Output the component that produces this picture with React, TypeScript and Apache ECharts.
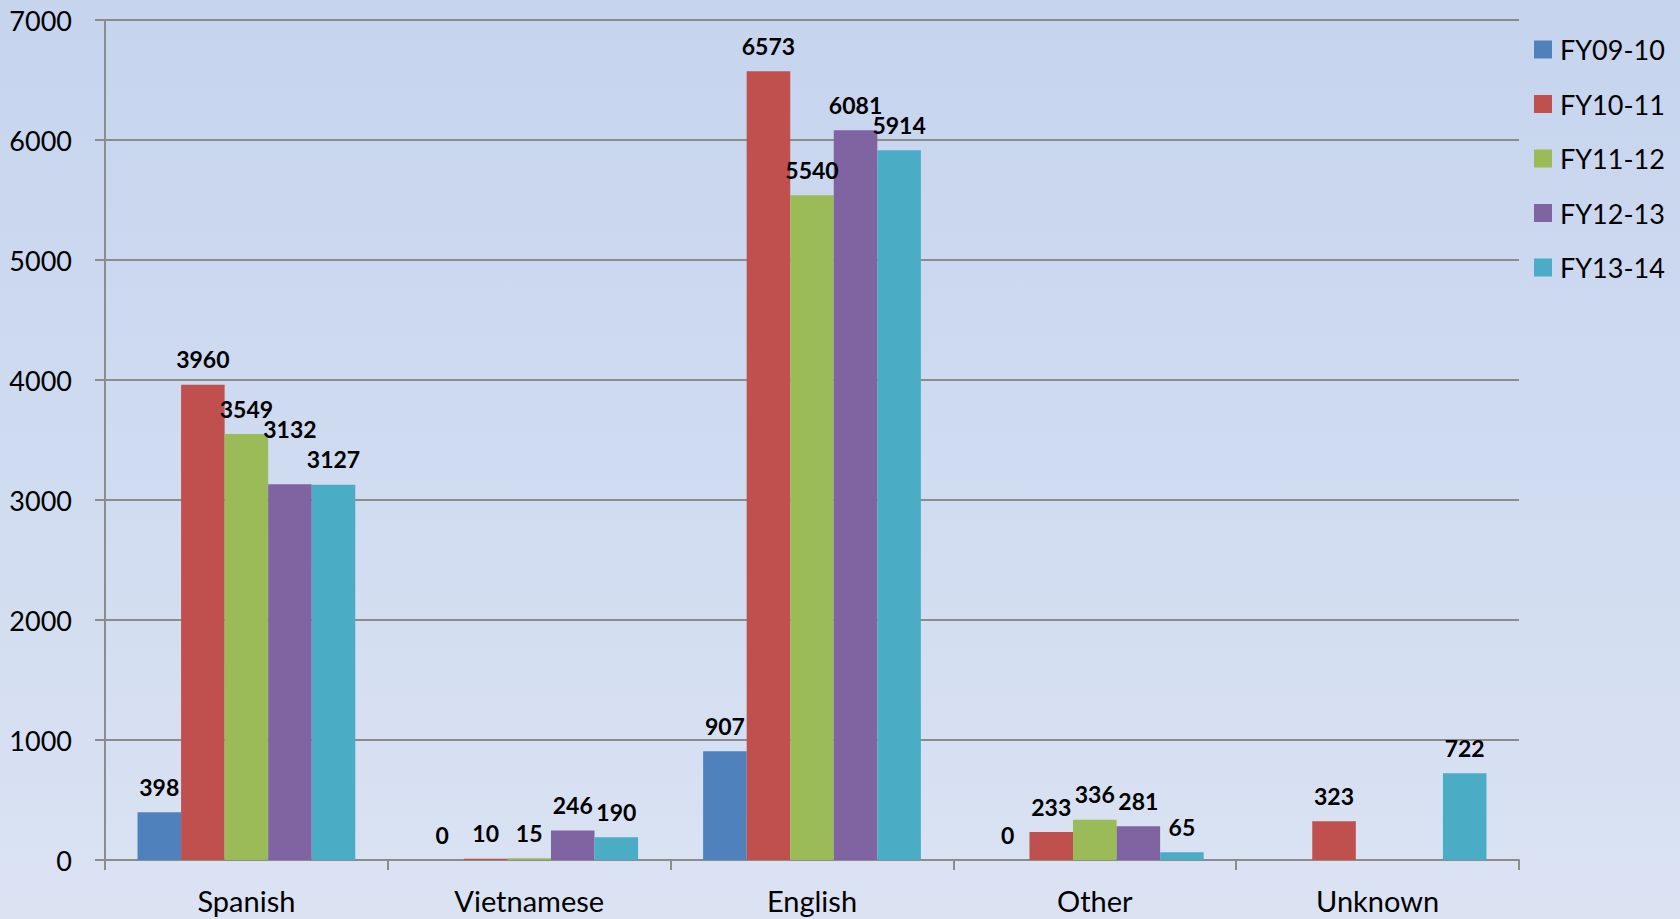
import React, { useEffect, useRef } from "react";
import * as echarts from "echarts";

const categories = ["Spanish", "Vietnamese", "English", "Other", "Unknown"];
const seriesNames = ["FY09-10", "FY10-11", "FY11-12", "FY12-13", "FY13-14"];
const fy0910 = [398, 0, 907, 0, null];
const fy1011 = [3960, 10, 6573, 233, 323];
const fy1112 = [3549, 15, 5540, 336, null];
const fy1213 = [3132, 246, 6081, 281, null];
const fy1314 = [3127, 190, 5914, 65, 722];
const colors = ["#4f81bd", "#c0504d", "#9bbb59", "#8064a2", "#4bacc6"];
const yTicks = [0, 1000, 2000, 3000, 4000, 5000, 6000, 7000];

const FONT = "Lato, 'Open Sans', sans-serif";

export default function App() {
  const ref = useRef<HTMLDivElement>(null);
  useEffect(() => {
    if (!ref.current) return;
    const chart = echarts.init(ref.current, null, { renderer: "svg" });
    const all = [fy0910, fy1011, fy1112, fy1213, fy1314];
    chart.setOption({
      animation: false,
      backgroundColor: "transparent",
      color: colors,
      textStyle: { fontFamily: FONT },
      grid: { left: 105, right: 161, top: 20, bottom: 59, containLabel: false },
      legend: {
        orient: "vertical",
        left: 1529,
        top: 31,
        itemWidth: 18,
        itemHeight: 18,
        itemGap: 27.5,
        icon: "rect",
        data: seriesNames,
        textStyle: { fontSize: 27, color: "#000", fontFamily: FONT, padding: [0, 0, 0, 3] },
      },
      xAxis: {
        type: "category",
        data: categories,
        axisLine: { lineStyle: { color: "#8c8c8c", width: 2 } },
        axisTick: { show: true, length: 10, lineStyle: { color: "#8c8c8c", width: 2 } },
        axisLabel: { fontSize: 29, color: "#000", margin: 26, fontFamily: FONT },
      },
      yAxis: {
        type: "value",
        min: yTicks[0],
        max: yTicks[yTicks.length - 1],
        interval: 1000,
        axisLine: { show: true, lineStyle: { color: "#8c8c8c", width: 2 } },
        axisTick: { show: true, length: 10, lineStyle: { color: "#8c8c8c", width: 2 } },
        axisLabel: {
          fontSize: 27,
          color: "#000",
          margin: 33,
          fontFamily: FONT,
          formatter: (v: number) => String(v),
        },
        splitLine: { show: true, lineStyle: { color: "#8c8c8c", width: 2 } },
      },
      series: seriesNames.map((name, i) => ({
        name,
        type: "bar",
        data: all[i].map((v, j) =>
          i === 3 && j === 0 ? { value: v, label: { distance: 44 } } : v
        ),
        barGap: "0%",
        barCategoryGap: "23%",
        itemStyle: { color: colors[i] },
        label: {
          show: true,
          position: "top",
          distance: 14,
          fontSize: 23,
          fontWeight: "bold",
          color: "#000",
          fontFamily: FONT,
        },
      })),
    });
    return () => chart.dispose();
  }, []);
  return (
    <div
      style={{
        position: "fixed",
        left: 0,
        top: 0,
        width: 1680,
        height: 919,
        background: "linear-gradient(to bottom, #c6d4ee 0%, #cfdbf0 50%, #dbe3f3 100%)",
      }}
    >
      <div ref={ref} style={{ width: 1680, height: 919 }} />
    </div>
  );
}
